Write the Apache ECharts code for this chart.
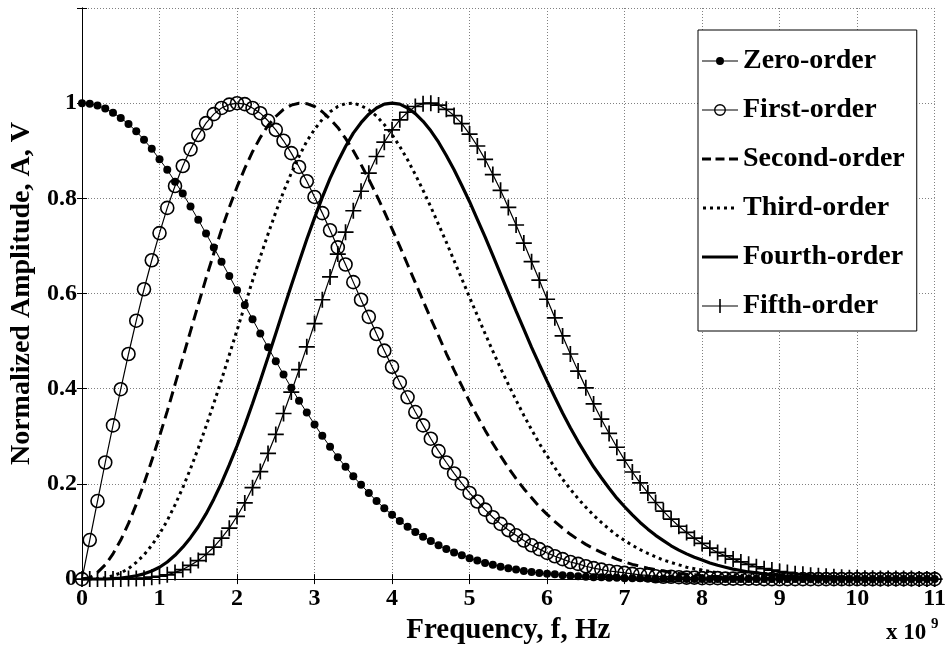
<!DOCTYPE html>
<html><head><meta charset="utf-8">
<script src="https://cdn.jsdelivr.net/npm/echarts@6/dist/echarts.min.js"></script>
<style>html,body{margin:0;padding:0;background:#fff}#c{width:949px;height:650px}</style>
</head><body><div id="c"></div>
<script>
// Frequency in units of 1e9 Hz
const freq = [
0,0.1,0.2,0.3,0.4,0.5,0.6,0.7,0.8,0.9,
1,1.1,1.2,1.3,1.4,1.5,1.6,1.7,1.8,1.9,
2,2.1,2.2,2.3,2.4,2.5,2.6,2.7,2.8,2.9,
3,3.1,3.2,3.3,3.4,3.5,3.6,3.7,3.8,3.9,
4,4.1,4.2,4.3,4.4,4.5,4.6,4.7,4.8,4.9,
5,5.1,5.2,5.3,5.4,5.5,5.6,5.7,5.8,5.9,
6,6.1,6.2,6.3,6.4,6.5,6.6,6.7,6.8,6.9,
7,7.1,7.2,7.3,7.4,7.5,7.6,7.7,7.8,7.9,
8,8.1,8.2,8.3,8.4,8.5,8.6,8.7,8.8,8.9,
9,9.1,9.2,9.3,9.4,9.5,9.6,9.7,9.8,9.9,
10,10.1,10.2,10.3,10.4,10.5,10.6,10.7,10.8,10.9,
11];
const zeroOrder = [
1.000,0.999,0.995,0.989,0.980,0.969,0.956,0.941,0.923,0.904,
0.882,0.860,0.835,0.810,0.783,0.755,0.726,0.697,0.667,0.637,
0.607,0.576,0.546,0.516,0.487,0.458,0.430,0.402,0.375,0.350,
0.325,0.301,0.278,0.256,0.236,0.216,0.198,0.181,0.164,0.149,
0.135,0.122,0.110,0.099,0.089,0.080,0.071,0.063,0.056,0.050,
0.044,0.039,0.034,0.030,0.026,0.023,0.020,0.017,0.015,0.013,
0.011,0.010,0.008,0.007,0.006,0.005,0.004,0.004,0.003,0.003,
0.002,0.002,0.002,0.001,0.001,0.001,0.001,0.001,0,0,
0,0,0,0,0,0,0,0,0,0,
0,0,0,0,0,0,0,0,0,0,
0,0,0,0,0,0,0,0,0,0,
0];
const firstOrder = [
0,0.082,0.164,0.245,0.323,0.399,0.473,0.543,0.609,0.670,
0.727,0.780,0.826,0.868,0.903,0.933,0.958,0.977,0.990,0.997,
1.000,0.998,0.990,0.979,0.963,0.944,0.921,0.895,0.866,0.836,
0.803,0.769,0.733,0.697,0.661,0.624,0.587,0.551,0.515,0.480,
0.446,0.413,0.382,0.351,0.323,0.295,0.269,0.245,0.222,0.201,
0.181,0.163,0.146,0.130,0.116,0.103,0.092,0.081,0.071,0.063,
0.055,0.048,0.042,0.036,0.032,0.027,0.023,0.020,0.017,0.015,
0.013,0.011,0.009,0.008,0.006,0.005,0.005,0.004,0.003,0.003,
0.002,0.002,0.002,0.001,0.001,0.001,0.001,0.001,0,0,
0,0,0,0,0,0,0,0,0,0,
0,0,0,0,0,0,0,0,0,0,
0];
const secondOrder = [
0,0.003,0.014,0.030,0.053,0.082,0.117,0.157,0.201,0.249,
0.300,0.353,0.409,0.465,0.521,0.577,0.632,0.684,0.734,0.781,
0.824,0.863,0.898,0.928,0.953,0.972,0.987,0.996,1.000,0.999,
0.993,0.982,0.967,0.949,0.926,0.900,0.871,0.840,0.807,0.772,
0.736,0.699,0.661,0.623,0.585,0.547,0.511,0.474,0.439,0.406,
0.373,0.342,0.313,0.285,0.259,0.234,0.211,0.190,0.171,0.152,
0.136,0.121,0.107,0.094,0.083,0.073,0.064,0.056,0.049,0.042,
0.036,0.031,0.027,0.023,0.020,0.017,0.014,0.012,0.010,0.009,
0.007,0.006,0.005,0.004,0.004,0.003,0.002,0.002,0.002,0.001,
0.001,0.001,0.001,0.001,0,0,0,0,0,0,
0,0,0,0,0,0,0,0,0,0,
0];
const thirdOrder = [
0,0,0.001,0.003,0.007,0.013,0.022,0.035,0.051,0.071,
0.095,0.123,0.156,0.192,0.232,0.275,0.321,0.369,0.419,0.471,
0.523,0.575,0.627,0.677,0.725,0.771,0.814,0.853,0.888,0.920,
0.945,0.966,0.982,0.993,0.999,1.000,0.995,0.986,0.973,0.955,
0.934,0.909,0.881,0.850,0.817,0.782,0.745,0.708,0.669,0.631,
0.592,0.554,0.516,0.479,0.443,0.409,0.376,0.344,0.314,0.285,
0.259,0.234,0.210,0.189,0.169,0.151,0.134,0.119,0.105,0.092,
0.081,0.071,0.062,0.054,0.047,0.040,0.035,0.030,0.025,0.022,
0.019,0.016,0.013,0.011,0.009,0.008,0.007,0.006,0.005,0.004,
0.003,0.003,0.002,0.002,0.001,0.001,0.001,0.001,0.001,0,
0,0,0,0,0,0,0,0,0,0,
0];
const fourthOrder = [
0,0,0,0,0.001,0.002,0.004,0.007,0.011,0.017,
0.025,0.036,0.050,0.067,0.087,0.110,0.137,0.168,0.202,0.240,
0.280,0.323,0.369,0.417,0.466,0.516,0.567,0.617,0.666,0.714,
0.759,0.802,0.842,0.877,0.909,0.937,0.959,0.977,0.990,0.998,
1.000,0.998,0.990,0.978,0.962,0.942,0.918,0.890,0.860,0.827,
0.793,0.756,0.719,0.680,0.641,0.602,0.563,0.525,0.487,0.451,
0.416,0.382,0.349,0.318,0.289,0.262,0.236,0.213,0.191,0.170,
0.152,0.135,0.119,0.105,0.092,0.081,0.070,0.061,0.053,0.046,
0.040,0.034,0.029,0.025,0.021,0.018,0.015,0.013,0.011,0.009,
0.008,0.006,0.005,0.004,0.004,0.003,0.002,0.002,0.002,0.001,
0.001,0.001,0.001,0,0,0,0,0,0,0,
0];
const fifthOrder = [
0,0,0,0,0,0,0.001,0.001,0.002,0.004,
0.006,0.009,0.014,0.020,0.029,0.039,0.052,0.067,0.086,0.107,
0.132,0.160,0.192,0.226,0.264,0.304,0.348,0.393,0.440,0.488,
0.537,0.587,0.635,0.683,0.729,0.774,0.815,0.853,0.888,0.918,
0.944,0.965,0.981,0.993,0.999,1.000,0.996,0.987,0.974,0.957,
0.935,0.910,0.882,0.850,0.817,0.781,0.744,0.706,0.667,0.628,
0.588,0.549,0.511,0.473,0.437,0.402,0.368,0.336,0.306,0.277,
0.250,0.225,0.202,0.181,0.161,0.143,0.126,0.111,0.098,0.086,
0.075,0.065,0.056,0.049,0.042,0.036,0.031,0.026,0.022,0.019,
0.016,0.014,0.011,0.010,0.008,0.007,0.006,0.005,0.004,0.003,
0.003,0.002,0.002,0.001,0.001,0.001,0.001,0.001,0,0,
0];
const seriesNames = ['Zero-order','First-order','Second-order','Third-order','Fourth-order','Fifth-order'];
const xTitle = 'Frequency, f, Hz';
const yTitle = 'Normalized Amplitude, A, V';
const xScaleNote = ['x 10', '9'];

const FONT = '"Liberation Serif","Times New Roman",serif';
const pairs = arr => freq.map((f, i) => [f, arr[i]]);
const chart = echarts.init(document.getElementById('c'), null, {renderer: 'canvas'});

// legend icons (36 x 14 box; tiny corner squares pin the bounding box)
const BOX = 'M0,0h0.01v0.01h-0.01z M35.99,13.99h0.01v0.01h-0.01z ';
const legendIcons = [
  'path://' + BOX + 'M0,6.5h36v1h-36z M14,7a4,4 0 1,1 8,0a4,4 0 1,1 -8,0z',
  'path://' + BOX + 'M0,6.5h36v1h-36z M12,7a6,6 0 1,1 12,0a6,6 0 1,1 -12,0z M13.4,7a4.6,4.6 0 1,0 9.2,0a4.6,4.6 0 1,0 -9.2,0z',
  'path://' + BOX + 'M0,5.5h9v3h-9z M13.5,5.5h9v3h-9z M27,5.5h9v3h-9z',
  'path://' + BOX + 'M1,5.5h3v3h-3z M8,5.5h3v3h-3z M15,5.5h3v3h-3z M22,5.5h3v3h-3z M29,5.5h3v3h-3z',
  'path://' + BOX + 'M0,5.5h36v3h-36z',
  'path://' + BOX + 'M0,6.5h36v1h-36z M17.2,0h1.6v14h-1.6z'
];

const gridLine = {show: true, lineStyle: {color: '#808080', type: [1, 2], width: 1}};
const base = {type: 'line', animation: false, showAllSymbol: true, smooth: false, z: 3};

chart.setOption({
  animation: false,
  backgroundColor: '#fff',
  grid: {left: 79, right: 11, top: 8, bottom: 70, containLabel: false},
  legend: {
    orient: 'vertical', left: 698, top: 30,
    itemWidth: 36, itemHeight: 14, itemGap: 21,
    padding: [17, 12, 11, 4],
    borderColor: '#000', borderWidth: 1, backgroundColor: '#fff',
    itemStyle: {color: '#000', borderWidth: 0, opacity: 1},
    textStyle: {fontFamily: FONT, fontWeight: 'bold', fontSize: 28, color: '#000'},
    data: seriesNames.map((n, i) => ({name: n, icon: legendIcons[i]}))
  },
  xAxis: [{
    type: 'value', min: 0, max: 11, interval: 1, position: 'bottom',
    name: xTitle, nameLocation: 'middle', nameGap: 34,
    nameTextStyle: {fontFamily: FONT, fontWeight: 'bold', fontSize: 29, color: '#000'},
    axisLine: {show: true, lineStyle: {color: '#000', width: 1}},
    axisTick: {show: true, inside: true, length: 5, lineStyle: {color: '#000'}},
    axisLabel: {fontFamily: FONT, fontWeight: 'bold', fontSize: 24, color: '#000', margin: 8},
    splitLine: gridLine
  }, {
    type: 'value', min: 0, max: 11, interval: 1, position: 'top',
    axisLine: {show: true, lineStyle: {color: '#000', width: 1}},
    axisTick: {show: true, inside: true, length: 5, lineStyle: {color: '#000'}},
    axisLabel: {show: false}, splitLine: {show: false}
  }],
  yAxis: [{
    type: 'value', min: 0, max: 1.2, interval: 0.2, position: 'left',
    name: yTitle, nameLocation: 'middle', nameGap: 46,
    nameTextStyle: {fontFamily: FONT, fontWeight: 'bold', fontSize: 28, color: '#000'},
    axisLine: {show: true, lineStyle: {color: '#000', width: 1}},
    axisTick: {show: true, inside: true, length: 5, lineStyle: {color: '#000'}},
    axisLabel: {fontFamily: FONT, fontWeight: 'bold', fontSize: 24, color: '#000', margin: 5,
      formatter: v => v > 1.05 ? '' : (v === 0 ? '0' : (Math.abs(v - 1) < 1e-9 ? '1' : v.toFixed(1)))},
    splitLine: gridLine
  }, {
    type: 'value', min: 0, max: 1.2, interval: 0.2, position: 'right',
    axisLine: {show: true, lineStyle: {color: '#000', width: 1}},
    axisTick: {show: true, inside: true, length: 5, lineStyle: {color: '#000'}},
    axisLabel: {show: false}, splitLine: {show: false}
  }],
  series: [
    Object.assign({}, base, {
      name: seriesNames[0], data: pairs(zeroOrder),
      symbol: 'circle', symbolSize: 8,
      itemStyle: {color: '#000'}, lineStyle: {color: '#000', width: 1}
    }),
    Object.assign({}, base, {
      name: seriesNames[1], data: pairs(firstOrder),
      symbol: 'circle', symbolSize: 13,
      itemStyle: {color: 'rgba(255,255,255,0)', borderColor: '#000', borderWidth: 1.6},
      lineStyle: {color: '#000', width: 1.2}
    }),
    Object.assign({}, base, {
      name: seriesNames[2], data: pairs(secondOrder), symbol: 'none',
      itemStyle: {color: '#000'},
      lineStyle: {color: '#000', width: 3, type: [11, 6]}
    }),
    Object.assign({}, base, {
      name: seriesNames[3], data: pairs(thirdOrder), symbol: 'none',
      itemStyle: {color: '#000'},
      lineStyle: {color: '#000', width: 3, type: [3, 4]}
    }),
    Object.assign({}, base, {
      name: seriesNames[4], data: pairs(fourthOrder), symbol: 'none',
      itemStyle: {color: '#000'},
      lineStyle: {color: '#000', width: 3.2}
    }),
    Object.assign({}, base, {
      name: seriesNames[5], data: pairs(fifthOrder),
      symbol: 'path://M7,0L7,14M0,7L14,7', symbolSize: 16,
      itemStyle: {color: 'rgba(0,0,0,0)', borderColor: '#000', borderWidth: 1.7},
      lineStyle: {color: '#000', width: 1.2}
    })
  ],
  graphic: [
    {type: 'text', left: 886, top: 622, z: 10,
     style: {text: xScaleNote[0], font: 'bold 23px ' + FONT, fill: '#000'}},
    {type: 'text', left: 931, top: 617, z: 10,
     style: {text: xScaleNote[1], font: 'bold 15px ' + FONT, fill: '#000'}}
  ]
});
</script></body></html>
